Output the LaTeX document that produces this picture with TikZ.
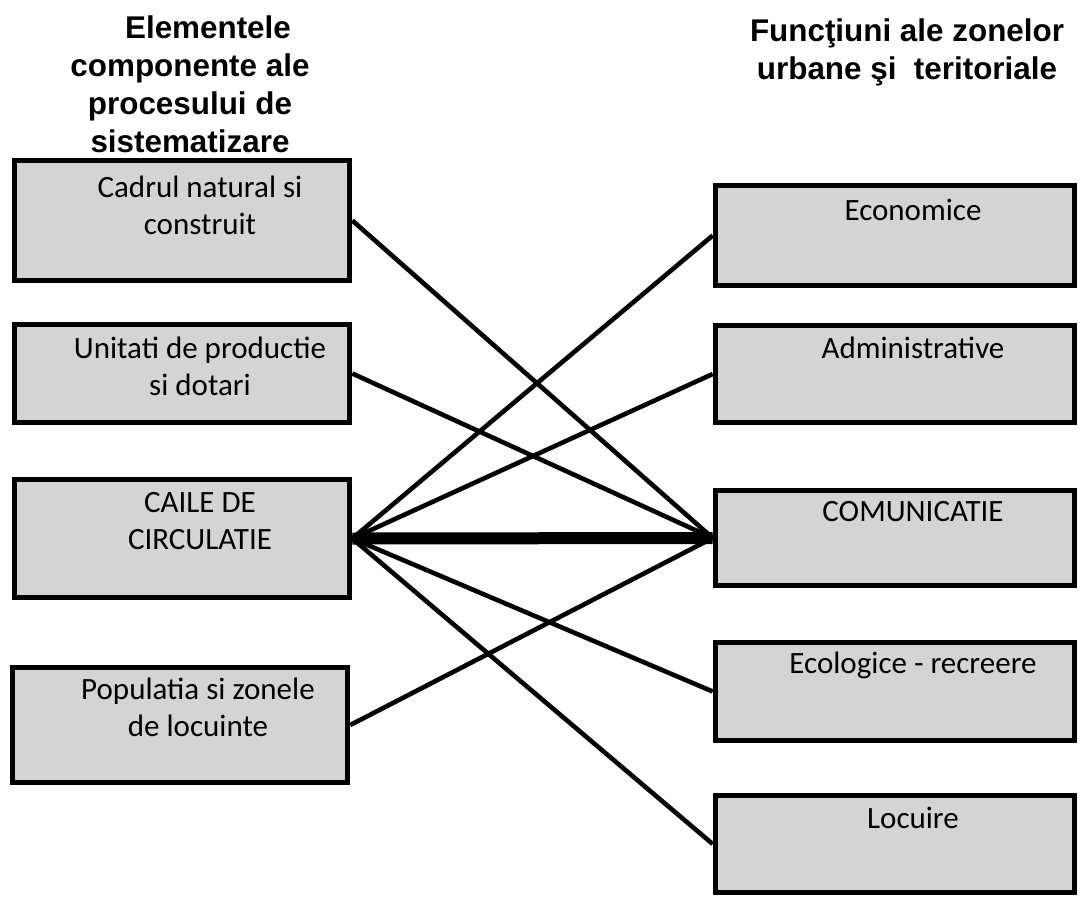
\documentclass[tikz,border=0pt]{standalone}
\usepackage{fontspec}
\setmainfont{Carlito}
\newfontfamily\headfont{Liberation Sans}
\usetikzlibrary{positioning}

\begin{document}
\begin{tikzpicture}[x=0.5pt,y=-0.5pt,
	box/.style={draw,line width=2.8pt,fill=black!17},
	lbox/.style={box,minimum width=167.5pt},
	rbox/.style={box,minimum width=179.5pt},
	boxtext/.style={inner sep=0pt,align=center,font=\fontsize{15.5}{18.5}\selectfont,xshift=9pt},
	head/.style={align=center,font=\headfont\bfseries\fontsize{15.7}{19}\selectfont},
	link/.style={line width=2.3pt}]
\useasboundingbox (0,0) rectangle (1087,900);

\node[head] (hleft) at (190,84) {\hspace*{18pt}Elementele\\componente ale\\procesului de\\sistematizare};
\node[head] (hright) at (907,52) {Funcţiuni ale zonelor\\urbane şi\ \ teritoriale};

% left column
\node[lbox,minimum height=60pt] (cadru) at (182,220.5) {};
\node[lbox,minimum height=49pt] (unitati) at (182,373.5) {};
\node[lbox,minimum height=59pt] (cai) at (182,538.5) {};
\node[lbox,minimum height=57.5pt] (populatie) at (180,725) {};

\node[boxtext,below=9pt of cadru.north] (tcadru) {Cadrul natural si\\construit};
\node[boxtext,below=7.5pt of unitati.north] (tunitati) {Unitati de productie\\si dotari};
\node[boxtext,below=7.5pt of cai.north] (tcai) {CAILE DE\\CIRCULATIE};
\node[boxtext,below=6.5pt of populatie.north] (tpopulatie) {Populatia si zonele\\de locuinte};

% right column
\node[rbox,minimum height=50pt] (economice) at (895,235.5) {};
\node[rbox,minimum height=48.5pt] (admin) at (895,374) {};
\node[rbox,minimum height=47.5pt] (comunic) at (895,538) {};
\node[rbox,minimum height=49pt] (ecolog) at (895,691.5) {};
\node[rbox,minimum height=48.5pt] (locuire) at (895,844) {};

\node[boxtext,below=8pt of economice.north] (teconomice) {Economice};
\node[boxtext,below=7pt of admin.north] (tadmin) {Administrative};
\node[boxtext,below=6.5pt of comunic.north] (tcomunic) {COMUNICATIE};
\node[boxtext,below=6pt of ecolog.north] (tecolog) {Ecologice - recreere};
\node[boxtext,below=7pt of locuire.north] (tlocuire) {Locuire};

% connectors
\foreach \l in {cadru,unitati,populatie}
	\draw[link] (\l.east) -- (comunic.west);
\foreach \r in {economice,admin,ecolog,locuire}
	\draw[link] (cai.east) -- (\r.west);
\draw[line width=6pt] (cai.east) -- (comunic.west);
\end{tikzpicture}
\end{document}
